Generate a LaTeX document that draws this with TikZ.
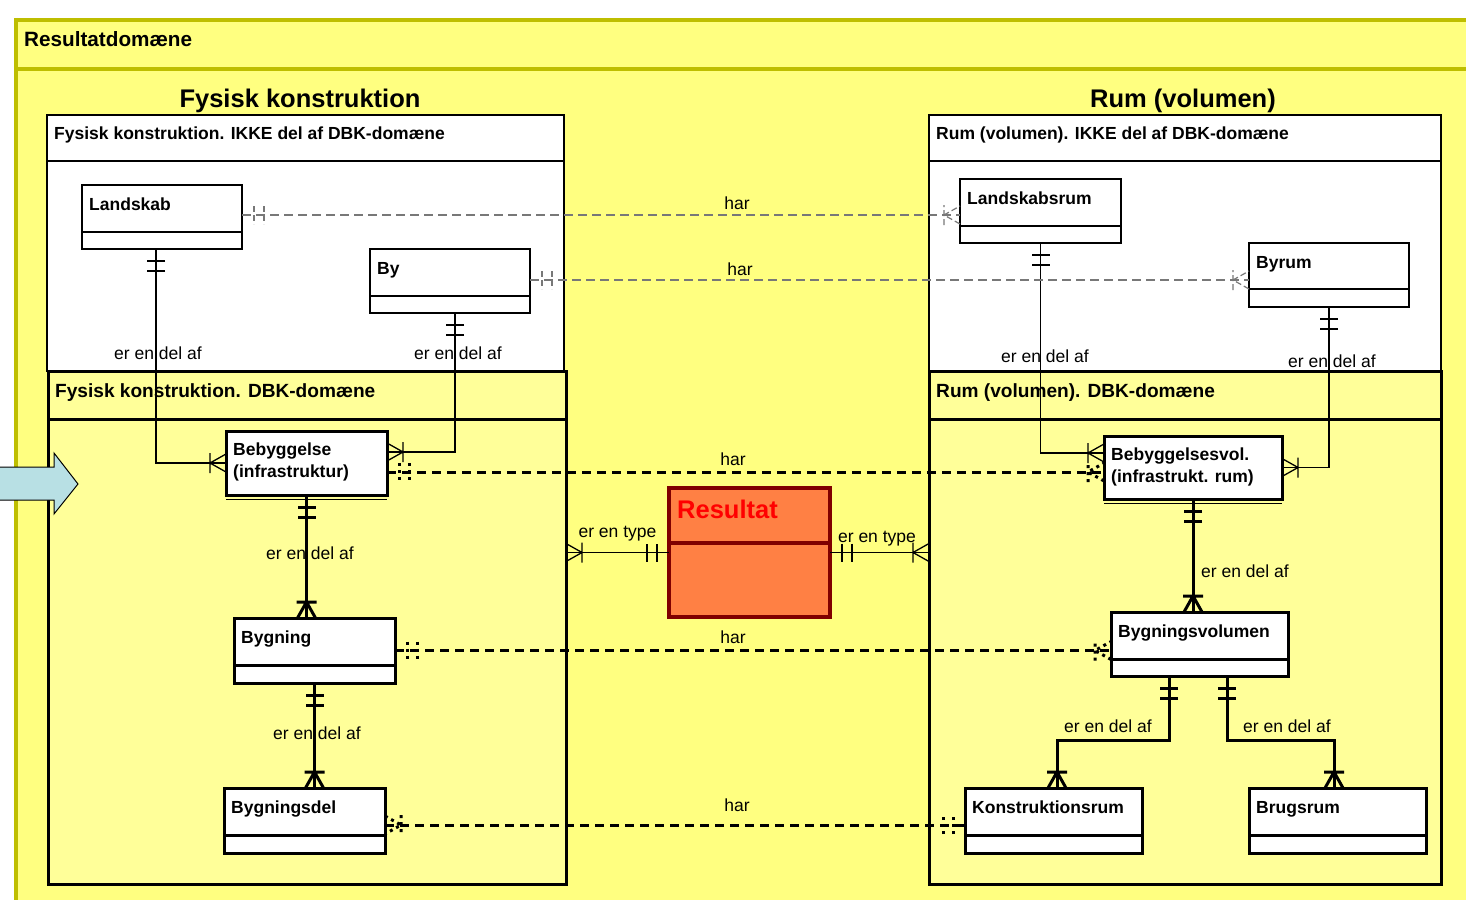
\documentclass[tikz,border=0pt]{standalone}
\usepackage{fontspec}
\setmainfont{Liberation Sans}
\newcommand\fsz[1]{\fontsize{#1pt}{#1pt}\selectfont}
\definecolor{outerY}{RGB}{255,255,128}
\definecolor{innerY}{RGB}{255,255,153}
\definecolor{oliveL}{RGB}{190,190,0}
\definecolor{resFill}{RGB}{255,128,68}
\definecolor{resBorder}{RGB}{128,0,0}
\definecolor{grayline}{RGB}{120,120,120}
\definecolor{arrowFill}{RGB}{184,224,228}
\newcommand\ent[8]{%
  \node[#2, minimum width=#5pt, minimum height=#6pt] (#1) at (#3,#4) {};
  \draw[#2sep] ([yshift=-#7pt]#1.north west) -- ([yshift=-#7pt]#1.north east);
  \node[enttext] (#1-t) at ([xshift=7pt,yshift=-25pt]#1.north west) {#8};
}
\tikzset{
  olv/.style={draw=oliveL, line width=4pt},
  thinent/.style={draw, fill=white, line width=1.5pt, inner sep=0pt, outer sep=0pt, anchor=north west},
  thickent/.style={draw, fill=white, line width=3pt, inner sep=0pt, outer sep=0pt, anchor=north west},
  thinentsep/.style={line width=1.5pt},
  thickentsep/.style={line width=3pt},
  ikke/.style={draw, fill=white, line width=1.5pt, inner sep=0pt, outer sep=0pt, anchor=north west},
  dbk/.style={draw, fill=innerY, line width=3pt, inner sep=0pt, outer sep=0pt, anchor=north west},
  enttext/.style={font=\bfseries\fsz{17.5}, inner sep=0pt, anchor=base west},
  dbktext/.style={font=\bfseries\fsz{19.1}, inner sep=0pt, anchor=base west},
  title/.style={font=\bfseries\fsz{25.5}, inner sep=0pt, anchor=base},
  lbl/.style={font=\fsz{17.5}, inner sep=0pt, anchor=base},
  thinc/.style={line width=1.3pt},
  thickc/.style={line width=3pt},
  thinmk/.style={line width=1.3pt},
  thickmk/.style={line width=3pt},
  grayc/.style={color=grayline, line width=1.2pt, dash pattern=on 9pt off 5pt},
  graymk/.style={color=grayline, line width=1.2pt, dash pattern=on 6pt off 3pt},
  blackc/.style={line width=3pt, dash pattern=on 9pt off 6pt},
  dotmk/.style={line width=3pt, dash pattern=on 3pt off 4pt},
  pics/onemk/.style={code={\draw (12,-9) -- (12,9) (22,-9) -- (22,9);}},
  pics/manymk/.style={code={\draw (16,-10) -- (16,10) (0,-9) -- (16,0) -- (0,9);}},
}
\begin{document}
\begin{tikzpicture}[x=1pt,y=-1pt]
\useasboundingbox (0,0) rectangle (1466,899);
\clip (0,0) rectangle (1466,899);
% outer frame
\fill[outerY] (14,18) rectangle (1470,903);
\draw[olv] (14,20) -- (1470,20);
\draw[olv] (14,69) -- (1470,69);
\draw[olv] (16,18) -- (16,903);
\node[font=\bfseries\fsz{20.7}, inner sep=0pt, anchor=base west] (domain) at (24,47) {Resultatdomæne};
% titles
\node[title] (titleL) at (300,107) {Fysisk konstruktion};
\node[title] (titleR) at (1183,107) {Rum (volumen)};
% IKKE boxes
\node[ikke, minimum width=517pt, minimum height=256pt] (ikkeL) at (47,115) {};
\draw[line width=1.5pt] ([yshift=-46pt]ikkeL.north west) -- ([yshift=-46pt]ikkeL.north east);
\node[enttext] (ikkeL-t) at (54,139) {Fysisk konstruktion. IKKE del af DBK-domæne};
\node[ikke, minimum width=512pt, minimum height=256pt] (ikkeR) at (929,115) {};
\draw[line width=1.5pt] ([yshift=-46pt]ikkeR.north west) -- ([yshift=-46pt]ikkeR.north east);
\node[enttext] (ikkeR-t) at (936,139) {Rum (volumen). IKKE del af DBK-domæne};
% DBK boxes
\node[dbk, minimum width=518pt, minimum height=513pt] (dbkL) at (48,371) {};
\draw[line width=3pt] ([yshift=-48pt]dbkL.north west) -- ([yshift=-48pt]dbkL.north east);
\node[dbktext] (dbkL-t) at (55,397) {Fysisk konstruktion. DBK-domæne};
\node[dbk, minimum width=512pt, minimum height=513pt] (dbkR) at (929,371) {};
\draw[line width=3pt] ([yshift=-48pt]dbkR.north west) -- ([yshift=-48pt]dbkR.north east);
\node[dbktext] (dbkR-t) at (936,397) {Rum (volumen). DBK-domæne};

% entities
\ent{landskab}{thinent}{82}{185}{160}{64}{47}{Landskab}
\ent{by}{thinent}{370}{249}{160}{64}{47}{By}
\ent{landskabsrum}{thinent}{960}{179}{161}{64}{47}{Landskabsrum}
\ent{byrum}{thinent}{1249}{243}{160}{64}{46}{Byrum}
\node[thickent, minimum width=161pt, minimum height=64pt] (bebyg) at (226,431) {};
\draw[line width=1pt] ([yshift=-4pt]bebyg.south west) -- ([yshift=-4pt]bebyg.south east);
\node[enttext] (bebyg-t1) at ([xshift=7pt,yshift=-24pt]bebyg.north west) {Bebyggelse};
\node[enttext] (bebyg-t2) at ([xshift=7pt,yshift=-46pt]bebyg.north west) {(infrastruktur)};
\node[thickent, minimum width=178pt, minimum height=63pt] (bebygvol) at (1104,436) {};
\draw[line width=1pt] ([yshift=-4pt]bebygvol.south west) -- ([yshift=-4pt]bebygvol.south east);
\node[enttext] (bebygvol-t1) at ([xshift=7pt,yshift=-24pt]bebygvol.north west) {Bebyggelsesvol.};
\node[enttext] (bebygvol-t2) at ([xshift=7pt,yshift=-46pt]bebygvol.north west) {(infrastrukt. rum)};
\ent{bygning}{thickent}{234}{618}{161}{65}{47}{Bygning}
\ent{bygningsdel}{thickent}{224}{788}{161}{65}{47}{Bygningsdel}
\ent{bygvol}{thickent}{1111}{612}{177}{64}{47}{Bygningsvolumen}
\ent{konstrum}{thickent}{965}{788}{177}{65}{47}{Konstruktionsrum}
\ent{brugsrum}{thickent}{1249}{788}{177}{65}{47}{Brugsrum}
\node[draw=resBorder, fill=resFill, line width=4pt, inner sep=0pt, outer sep=0pt, anchor=north west, minimum width=161pt, minimum height=129pt] (resultat) at (669,488) {};
\draw[draw=resBorder, line width=4pt] ([yshift=-55pt]resultat.north west) -- ([yshift=-55pt]resultat.north east);
\node[font=\bfseries\fsz{25.5}, text={rgb,255:red,255;green,0;blue,0}, inner sep=0pt, anchor=base west] (resultat-t) at (677,518) {Resultat};

% --- thin "er en del af" connectors (upper)
\coordinate (c1) at ([xshift=-6pt]landskab.south);
\draw[thinc] (c1) |- (bebyg.west);
\pic[thinmk, rotate=-90] at (c1) {onemk};
\pic[thinmk, rotate=180] at (bebyg.west) {manymk};
\node[lbl] (l1) at (158,359) {er en del af};

\coordinate (c2) at ([xshift=5pt]by.south);
\coordinate (c2e) at ([yshift=11pt]bebyg.east);
\draw[thinc] (c2) |- (c2e);
\pic[thinmk, rotate=-90] at (c2) {onemk};
\pic[thinmk, rotate=0] at (c2e) {manymk};
\node[lbl] (l2) at (458,359) {er en del af};

\coordinate (c3e) at ([yshift=14.5pt]bebygvol.west);
\draw[thinc] (landskabsrum.south) |- (c3e);
\pic[thinmk, rotate=-90] at (landskabsrum.south) {onemk};
\pic[thinmk, rotate=180] at (c3e) {manymk};
\node[lbl] (l3) at (1045,362) {er en del af};

\draw[thinc] (byrum.south) |- (bebygvol.east);
\pic[thinmk, rotate=-90] at (byrum.south) {onemk};
\pic[thinmk, rotate=0] at (bebygvol.east) {manymk};
\node[lbl] (l4) at (1332,367) {er en del af};

% --- gray "har"
\coordinate (g1s) at ([yshift=2pt]landskab.east);
\coordinate (g1e) at (g1s -| landskabsrum.west);
\draw[grayc] (g1s) -- (g1e);
\pic[graymk, rotate=0] at (g1s) {onemk};
\pic[graymk, rotate=180] at (g1e) {manymk};
\node[lbl] (h1) at (737,209) {har};

\coordinate (g2s) at ([yshift=1pt]by.east);
\coordinate (g2e) at (g2s -| byrum.west);
\draw[grayc] (g2s) -- (g2e);
\pic[graymk, rotate=0] at (g2s) {onemk};
\pic[graymk, rotate=180] at (g2e) {manymk};
\node[lbl] (h2) at (740,275) {har};

% --- black dashed "har"
\coordinate (b1s) at ([yshift=-9pt]bebyg.east);
\coordinate (b1e) at (b1s -| bebygvol.west);
\draw[blackc] (b1s) -- (b1e);
\pic[dotmk, rotate=0] at (b1s) {onemk};
\pic[dotmk, rotate=180] at (b1e) {manymk};
\node[lbl] (h3) at (733,465) {har};

\coordinate (b2s) at (bygning.east);
\coordinate (b2e) at (b2s -| bygvol.west);
\draw[blackc] (b2s) -- (b2e);
\pic[dotmk, rotate=0] at (b2s) {onemk};
\pic[dotmk, rotate=180] at (b2e) {manymk};
\node[lbl] (h4) at (733,643) {har};

\coordinate (b3s) at ([yshift=-4.5pt]bygningsdel.east);
\coordinate (b3e) at (b3s -| konstrum.west);
\draw[blackc] (b3s) -- (b3e);
\pic[dotmk, rotate=0] at (b3s) {manymk};
\pic[dotmk, rotate=180] at (b3e) {onemk};
\node[lbl] (h5) at (737,811) {har};

% --- thick "er en del af"
\coordinate (t1e) at (bebyg.south |- bygning.north);
\draw[thickc] (bebyg.south) -- (t1e);
\pic[thickmk, rotate=-90] at (bebyg.south) {onemk};
\pic[thickmk, rotate=90] at (t1e) {manymk};
\node[lbl] (l5) at (310,559) {er en del af};

\coordinate (t2e) at (bygning.south |- bygningsdel.north);
\draw[thickc] (bygning.south) -- (t2e);
\pic[thickmk, rotate=-90] at (bygning.south) {onemk};
\pic[thickmk, rotate=90] at (t2e) {manymk};
\node[lbl] (l6) at (317,739) {er en del af};

\coordinate (t3e) at (bebygvol.south |- bygvol.north);
\draw[thickc] (bebygvol.south) -- (t3e);
\pic[thickmk, rotate=-90] at (bebygvol.south) {onemk};
\pic[thickmk, rotate=90] at (t3e) {manymk};
\node[lbl, anchor=base west] (l7) at (1201,577) {er en del af};

\coordinate (k1) at ([xshift=-30.5pt]bygvol.south);
\coordinate (k1e) at ([xshift=3.5pt]konstrum.north);
\draw[thickc] (k1) -- (k1 |- 0,740) -| (k1e);
\pic[thickmk, rotate=-90] at (k1) {onemk};
\pic[thickmk, rotate=90] at (k1e) {manymk};
\node[lbl] (l8) at (1108,732) {er en del af};

\coordinate (k2) at ([xshift=27.5pt]bygvol.south);
\coordinate (k2e) at ([xshift=-3.5pt]brugsrum.north);
\draw[thickc] (k2) -- (k2 |- 0,740) -| (k2e);
\pic[thickmk, rotate=-90] at (k2) {onemk};
\pic[thickmk, rotate=90] at (k2e) {manymk};
\node[lbl] (l9) at (1287,732) {er en del af};

% --- Resultat "er en type"
\coordinate (r1e) at (resultat.west -| dbkL.east);
\draw[thinc] (resultat.west) -- (r1e);
\pic[thinmk, rotate=180] at (resultat.west) {onemk};
\pic[thinmk, rotate=0] at (r1e) {manymk};
\node[lbl] (l10) at (617.5,537) {er en type};

\coordinate (r2e) at (resultat.east -| dbkR.west);
\draw[thinc] (resultat.east) -- (r2e);
\pic[thinmk, rotate=0] at (resultat.east) {onemk};
\pic[thinmk, rotate=180] at (r2e) {manymk};
\node[lbl] (l11) at (877,542) {er en type};

% --- blue arrow
\draw[fill=arrowFill, line width=1pt] (-5,467) -- (54,467) -- (54,453) -- (78,484) -- (54,514) -- (54,500) -- (-5,500) -- cycle;
\end{tikzpicture}
\end{document}
